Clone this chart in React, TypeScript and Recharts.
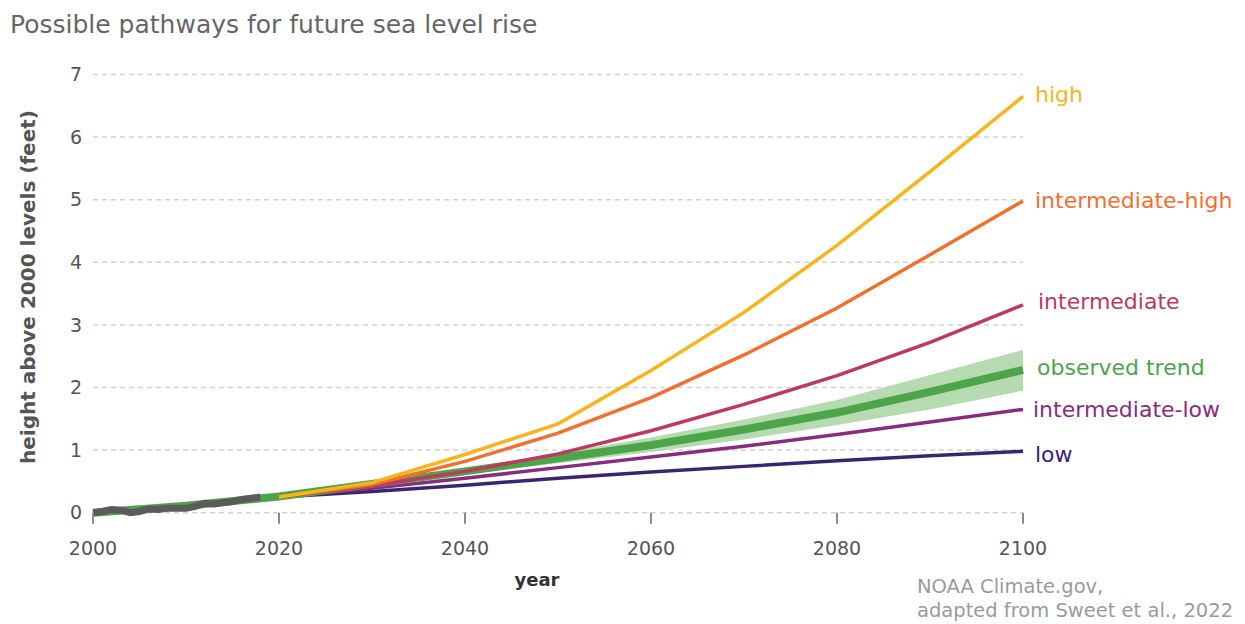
import React from 'react';
import { ComposedChart, Line, Area, XAxis, YAxis, CartesianGrid, LabelList } from 'recharts';

const FONT = '"DejaVu Sans", Verdana, sans-serif';

const observedYears = [2000, 2001, 2002, 2003, 2004, 2005, 2006, 2007, 2008, 2009, 2010, 2011, 2012, 2013, 2014, 2015, 2016, 2017, 2018];
const observedValues = [0.0, 0.02, 0.05, 0.04, 0.0, 0.02, 0.06, 0.05, 0.07, 0.07, 0.07, 0.1, 0.15, 0.14, 0.16, 0.18, 0.21, 0.23, 0.25];

const trendYears = [2000, 2010, 2020, 2030, 2040, 2050, 2060, 2070, 2080, 2090, 2100];
const trendValues = [0.0, 0.11, 0.26, 0.46, 0.66, 0.87, 1.08, 1.33, 1.6, 1.93, 2.28];

const bandYears = [2020, 2030, 2040, 2050, 2060, 2070, 2080, 2090, 2100];
const trendLower = [0.26, 0.44, 0.61, 0.79, 0.97, 1.17, 1.4, 1.65, 1.95];
const trendUpper = [0.26, 0.48, 0.71, 0.95, 1.2, 1.49, 1.8, 2.2, 2.6];

const scenarioYears = [2020, 2030, 2040, 2050, 2060, 2070, 2080, 2090, 2100];
const highValues = [0.25, 0.48, 0.93, 1.42, 2.27, 3.2, 4.27, 5.45, 6.65];
const intHighValues = [0.25, 0.45, 0.82, 1.27, 1.84, 2.52, 3.27, 4.12, 4.98];
const intermediateValues = [0.25, 0.43, 0.66, 0.94, 1.31, 1.73, 2.19, 2.72, 3.32];
const intLowValues = [0.25, 0.39, 0.55, 0.72, 0.89, 1.06, 1.25, 1.45, 1.65];
const lowValues = [0.25, 0.34, 0.44, 0.55, 0.65, 0.74, 0.83, 0.91, 0.98];

const xTicks = [2000, 2020, 2040, 2060, 2080, 2100];
const yTicks = [0, 1, 2, 3, 4, 5, 6, 7];

const COLORS = {
  high: '#fbb31b',
  intHigh: '#f2702e',
  intermediate: '#c0375f',
  trend: '#4ca549',
  band: '#a9d5a2',
  intLow: '#8a2b83',
  low: '#3b2571',
  observed: '#5b5b5b',
};

type Row = { [k: string]: any };

function buildRows(): Row[] {
  const map = new Map<number, Row>();
  const get = (y: number) => {
    if (!map.has(y)) map.set(y, { year: y });
    return map.get(y)!;
  };
  observedYears.forEach((y, i) => (get(y).observed = observedValues[i]));
  trendYears.forEach((y, i) => (get(y).trend = trendValues[i]));
  bandYears.forEach((y, i) => (get(y).band = [trendLower[i], trendUpper[i]]));
  scenarioYears.forEach((y, i) => {
    const r = get(y);
    r.high = highValues[i];
    r.intHigh = intHighValues[i];
    r.intermediate = intermediateValues[i];
    r.intLow = intLowValues[i];
    r.low = lowValues[i];
  });
  return Array.from(map.values()).sort((a, b) => a.year - b.year);
}

const rows = buildRows();
const lastIndex = rows.length - 1;

const endLabel = (name: string, color: string, dx = 12, dy = 0) => (props: any) => {
  const { x, y, index } = props;
  if (index !== lastIndex) return null;
  return (
    <text x={Number(x) + dx} y={Number(y) + dy} fill={color} fontSize={22} fontFamily={FONT} dominantBaseline="central">
      {name}
    </text>
  );
};

const XTick = (props: any) => {
  const { x, y, payload } = props;
  return (
    <text x={x} y={Number(y) + 27} textAnchor="middle" fill="#555" fontSize={19} fontFamily={FONT}>
      {payload.value}
    </text>
  );
};

export default function App() {
  return (
    <div style={{ position: 'absolute', left: 0, top: 0, width: 1245, height: 624, background: '#fff', fontFamily: FONT }}>
      <div style={{ position: 'absolute', left: 10, top: 9, fontSize: 25, lineHeight: '32px', color: '#666', whiteSpace: 'nowrap' }}>
        Possible pathways for future sea level rise
      </div>
      <ComposedChart
        width={1245}
        height={624}
        data={rows}
        margin={{ top: 74.5, right: 222, bottom: 81.3, left: 53 }}
      >
        <CartesianGrid horizontal vertical={false} stroke="#d2d2d2" strokeDasharray="5 4" strokeWidth={1.5} />
        <XAxis
          dataKey="year"
          type="number"
          domain={[2000, 2100]}
          ticks={xTicks}
          axisLine={false}
          tickLine={{ stroke: '#8a8a8a', strokeWidth: 2, strokeDasharray: '0 4 11 100' }}
          tickSize={15}
          tickMargin={0}
          height={30}
          tick={<XTick />}
          interval={0}
        />
        <YAxis
          type="number"
          domain={[0, 7]}
          ticks={yTicks}
          axisLine={false}
          tickLine={false}
          tickSize={6}
          tickMargin={5}
          width={40}
          tick={{ fill: '#555', fontSize: 19, fontFamily: FONT }}
          interval={0}
        />
        <Line dataKey="low" stroke={COLORS.low} strokeWidth={3.5} dot={false} activeDot={false} connectNulls isAnimationActive={false}>
          <LabelList dataKey="low" content={endLabel('low', COLORS.low, 12, 3)} />
        </Line>
        <Line dataKey="intLow" stroke={COLORS.intLow} strokeWidth={3.5} dot={false} activeDot={false} connectNulls isAnimationActive={false}>
          <LabelList dataKey="intLow" content={endLabel('intermediate-low', COLORS.intLow, 10, 0)} />
        </Line>
        <Area dataKey="band" stroke="none" fill={COLORS.band} fillOpacity={0.85} isAnimationActive={false} activeDot={false} connectNulls />
        <Line dataKey="trend" stroke={COLORS.trend} strokeWidth={8} dot={false} activeDot={false} connectNulls isAnimationActive={false}>
          <LabelList dataKey="trend" content={endLabel('observed trend', COLORS.trend, 14, -2)} />
        </Line>
        <Line dataKey="intermediate" stroke={COLORS.intermediate} strokeWidth={3.5} dot={false} activeDot={false} connectNulls isAnimationActive={false}>
          <LabelList dataKey="intermediate" content={endLabel('intermediate', COLORS.intermediate, 15, -3)} />
        </Line>
        <Line dataKey="intHigh" stroke={COLORS.intHigh} strokeWidth={3.5} dot={false} activeDot={false} connectNulls isAnimationActive={false}>
          <LabelList dataKey="intHigh" content={endLabel('intermediate-high', COLORS.intHigh, 12, 0)} />
        </Line>
        <Line dataKey="high" stroke={COLORS.high} strokeWidth={3.5} dot={false} activeDot={false} connectNulls isAnimationActive={false}>
          <LabelList dataKey="high" content={endLabel('high', COLORS.high, 12, -2)} />
        </Line>
        <Line dataKey="observed" stroke={COLORS.observed} strokeWidth={7} dot={false} activeDot={false} connectNulls isAnimationActive={false} />
      </ComposedChart>
      <div
        style={{
          position: 'absolute',
          left: 28,
          top: 287,
          transform: 'translate(-50%, -50%) rotate(-90deg)',
          fontSize: 20,
          fontWeight: 'bold',
          color: '#555',
          whiteSpace: 'nowrap',
          lineHeight: '24px',
        }}
      >
        height above 2000 levels (feet)
      </div>
      <div style={{ position: 'absolute', left: 537, top: 568, transform: 'translateX(-50%)', fontSize: 18, fontWeight: 'bold', color: '#333', lineHeight: '24px' }}>
        year
      </div>
      <div style={{ position: 'absolute', left: 917, top: 575, fontSize: 19.5, color: '#9a9a9a', lineHeight: '24px', whiteSpace: 'nowrap' }}>
        NOAA Climate.gov,
        <br />
        adapted from Sweet et al., 2022
      </div>
    </div>
  );
}
